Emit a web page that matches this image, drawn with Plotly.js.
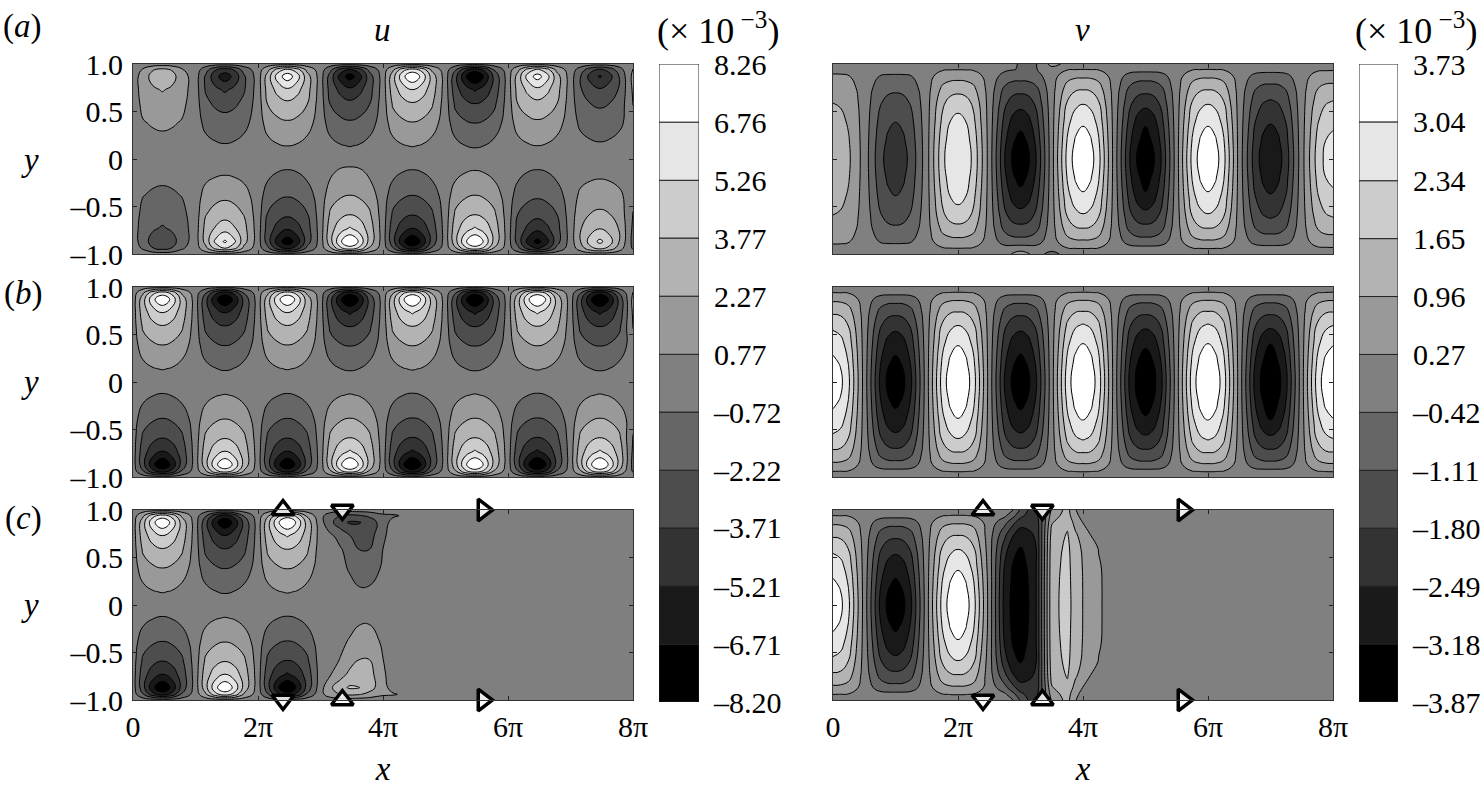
<!DOCTYPE html>
<html>
<head>
<meta charset="utf-8">
<script src="https://cdn.plot.ly/plotly-3.0.1.min.js"></script>
<style>html,body{margin:0;padding:0;background:#fff}</style>
</head>
<body>
<div id="chart" style="width:1484px;height:789px"></div>
<script>
const uX = [0,.16,.32,.47,.62,.78,1,1.16,1.32,1.47,1.62,1.78,2,2.16,2.32,2.47,2.62,2.78,3,3.16,3.32,3.47,3.62,3.78,4,4.16,4.32,4.47,4.62,4.78,5,5.16,5.32,5.47,5.62,5.78,6,6.16,6.32,6.47,6.62,6.78,7,7.16,7.32,7.47,7.62,7.78,8];
const uY = [-1,-.94,-.87,-.73,-.58,-.38,-.14,0,.14,.38,.58,.73,.87,.94,1];
const vX = [0,.12,.25,.5,.75,.88,1,1.12,1.25,1.5,1.75,1.88,2,2.12,2.25,2.5,2.75,2.88,3,3.12,3.25,3.5,3.75,3.88,4,4.12,4.25,4.5,4.75,4.88,5,5.12,5.25,5.5,5.75,5.88,6,6.12,6.25,6.5,6.75,6.88,7,7.12,7.25,7.5,7.75,7.88,8];
const vY = [-1,-.94,-.87,-.75,-.6,-.4,-.2,0,.2,.4,.6,.75,.87,.94,1];
const flat = [0,0,0,0,0,0,0,0,0,0,0,0,0,0,0,0,0,0,0,0,0,0,0,0,0,0,0,0,0,0,0,0,0,0,0,0,0,0,0,0,0,0,0,0,0,0,0,0,0];

const uA = [
  flat,
  [0,-.9,-2.16,-2.7,-2.16,-.9,0,1.75,4.2,5.25,4.2,1.75,0,-1.9,-4.56,-5.7,-4.56,-1.9,0,2.05,4.92,6.15,4.92,2.05,0,-2,-4.8,-6,-4.8,-2,0,2.05,4.92,6.15,4.92,2.05,0,-1.8,-4.32,-5.4,-4.32,-1.8,0,1.4,3.36,4.2,3.36,1.4,-.9],
  [0,-1.44,-2.88,-3.6,-2.88,-1.44,0,2.8,5.6,7,5.6,2.8,0,-3.04,-6.08,-7.6,-6.08,-3.04,0,3.28,6.56,8.2,6.56,3.28,0,-3.2,-6.4,-8,-6.4,-3.2,0,3.28,6.56,8.2,6.56,3.28,0,-2.88,-5.76,-7.2,-5.76,-2.88,0,2.24,4.48,5.6,4.48,2.24,-1.2],
  [0,-1.4,-2.02,-2.38,-2.02,-1.4,0,2.73,3.92,4.62,3.92,2.73,0,-2.96,-4.26,-5.02,-4.26,-2.96,0,3.2,4.59,5.41,4.59,3.2,0,-3.12,-4.48,-5.28,-4.48,-3.12,0,3.2,4.59,5.41,4.59,3.2,0,-2.81,-4.03,-4.75,-4.03,-2.81,0,2.18,3.14,3.7,3.14,2.18,-1],
  [0,-1.12,-1.48,-1.62,-1.48,-1.12,0,2.17,2.87,3.15,2.87,2.17,0,-2.36,-3.12,-3.42,-3.12,-2.36,0,2.54,3.36,3.69,3.36,2.54,0,-2.48,-3.28,-3.6,-3.28,-2.48,0,2.54,3.36,3.69,3.36,2.54,0,-2.23,-2.95,-3.24,-2.95,-2.23,0,1.74,2.3,2.52,2.3,1.74,-.85],
  [0,-.68,-.9,-.99,-.9,-.68,0,1.32,1.75,1.93,1.75,1.32,0,-1.43,-1.9,-2.09,-1.9,-1.43,0,1.54,2.05,2.26,2.05,1.54,0,-1.5,-2,-2.2,-2,-1.5,0,1.54,2.05,2.26,2.05,1.54,0,-1.35,-1.8,-1.98,-1.8,-1.35,0,1.05,1.4,1.54,1.4,1.05,0],
  [0,-.13,-.3,-.35,-.3,-.13,0,.22,.5,.6,.5,.22,0,-.32,-.75,-.9,-.75,-.32,0,.5,1.1,1.3,1.1,.5,0,-.32,-.75,-.9,-.75,-.32,0,.32,.75,.9,.75,.32,0,-.32,-.75,-.9,-.75,-.32,0,.16,.38,.45,.38,.16,0],
  flat,
  [0,.14,.32,.38,.32,.14,0,-.23,-.53,-.63,-.53,-.23,0,.29,.67,.8,.67,.29,0,-.28,-.65,-.78,-.65,-.28,0,.3,.7,.84,.7,.3,0,-.31,-.72,-.86,-.72,-.31,0,.28,.65,.78,.65,.28,0,-.2,-.48,-.57,-.48,-.2,0],
  [0,.68,.9,.99,.9,.68,0,-1.13,-1.5,-1.65,-1.5,-1.13,0,1.43,1.9,2.09,1.9,1.43,0,-1.39,-1.85,-2.04,-1.85,-1.39,0,1.5,2,2.2,2,1.5,0,-1.54,-2.05,-2.26,-2.05,-1.54,0,1.39,1.85,2.04,1.85,1.39,0,-1.02,-1.35,-1.49,-1.35,-1.02,0],
  [0,1.12,1.48,1.62,1.48,1.12,0,-1.86,-2.46,-2.7,-2.46,-1.86,0,2.36,3.12,3.42,3.12,2.36,0,-2.29,-3.03,-3.33,-3.03,-2.29,0,2.48,3.28,3.6,3.28,2.48,0,-2.54,-3.36,-3.69,-3.36,-2.54,0,2.29,3.03,3.33,3.03,2.29,0,-1.67,-2.21,-2.43,-2.21,-1.67,.85],
  [0,1.4,2.02,2.38,2.02,1.4,0,-2.34,-3.36,-3.96,-3.36,-2.34,0,2.96,4.26,5.02,4.26,2.96,0,-2.89,-4.14,-4.88,-4.14,-2.89,0,3.12,4.48,5.28,4.48,3.12,0,-3.2,-4.59,-5.41,-4.59,-3.2,0,2.89,4.14,4.88,4.14,2.89,0,-2.11,-3.02,-3.56,-3.02,-2.11,1],
  [0,1.44,2.88,3.6,2.88,1.44,0,-2.4,-4.8,-6,-4.8,-2.4,0,3.04,6.08,7.6,6.08,3.04,0,-2.96,-5.92,-7.4,-5.92,-2.96,0,3.2,6.4,8,6.4,3.2,0,-3.28,-6.56,-8.2,-6.56,-3.28,0,2.96,5.92,7.4,5.92,2.96,0,-2.16,-4.32,-5.4,-4.32,-2.16,1.2],
  [0,.9,2.16,2.7,2.16,.9,0,-1.5,-3.6,-4.5,-3.6,-1.5,0,1.9,4.56,5.7,4.56,1.9,0,-1.85,-4.44,-5.55,-4.44,-1.85,0,2,4.8,6,4.8,2,0,-2.05,-4.92,-6.15,-4.92,-2.05,0,1.85,4.44,5.55,4.44,1.85,0,-1.35,-3.24,-4.05,-3.24,-1.35,.9],
  flat
];

const uB = [
  flat,
  [0,-2,-4.8,-6,-4.8,-2,0,2,4.8,6,4.8,2,0,-2,-4.8,-6,-4.8,-2,0,2.05,4.92,6.15,4.92,2.05,0,-2.05,-4.92,-6.15,-4.92,-2.05,0,2.05,4.92,6.15,4.92,2.05,0,-2.05,-4.92,-6.15,-4.92,-2.05,0,2.05,4.92,6.15,4.92,2.05,-.9],
  [0,-3.2,-6.4,-8,-6.4,-3.2,0,3.2,6.4,8,6.4,3.2,0,-3.2,-6.4,-8,-6.4,-3.2,0,3.28,6.56,8.2,6.56,3.28,0,-3.28,-6.56,-8.2,-6.56,-3.28,0,3.28,6.56,8.2,6.56,3.28,0,-3.28,-6.56,-8.2,-6.56,-3.28,0,3.28,6.56,8.2,6.56,3.28,-1.2],
  [0,-3.12,-4.48,-5.28,-4.48,-3.12,0,3.12,4.48,5.28,4.48,3.12,0,-3.12,-4.48,-5.28,-4.48,-3.12,0,3.2,4.59,5.41,4.59,3.2,0,-3.2,-4.59,-5.41,-4.59,-3.2,0,3.2,4.59,5.41,4.59,3.2,0,-3.2,-4.59,-5.41,-4.59,-3.2,0,3.2,4.59,5.41,4.59,3.2,-1],
  [0,-2.48,-3.28,-3.6,-3.28,-2.48,0,2.48,3.28,3.6,3.28,2.48,0,-2.48,-3.28,-3.6,-3.28,-2.48,0,2.54,3.36,3.69,3.36,2.54,0,-2.54,-3.36,-3.69,-3.36,-2.54,0,2.54,3.36,3.69,3.36,2.54,0,-2.54,-3.36,-3.69,-3.36,-2.54,0,2.54,3.36,3.69,3.36,2.54,-.85],
  [0,-1.5,-2,-2.2,-2,-1.5,0,1.5,2,2.2,2,1.5,0,-1.5,-2,-2.2,-2,-1.5,0,1.54,2.05,2.26,2.05,1.54,0,-1.54,-2.05,-2.26,-2.05,-1.54,0,1.54,2.05,2.26,2.05,1.54,0,-1.54,-2.05,-2.26,-2.05,-1.54,0,1.54,2.05,2.26,2.05,1.54,0],
  [0,-.3,-.7,-.84,-.7,-.3,0,.3,.7,.84,.7,.3,0,-.3,-.7,-.84,-.7,-.3,0,.31,.72,.86,.72,.31,0,-.31,-.72,-.86,-.72,-.31,0,.31,.72,.86,.72,.31,0,-.31,-.72,-.86,-.72,-.31,0,.31,.72,.86,.72,.31,0],
  flat,
  [0,.3,.7,.84,.7,.3,0,-.3,-.7,-.84,-.7,-.3,0,.3,.7,.84,.7,.3,0,-.31,-.72,-.86,-.72,-.31,0,.31,.72,.86,.72,.31,0,-.31,-.72,-.86,-.72,-.31,0,.31,.72,.86,.72,.31,0,-.31,-.72,-.86,-.72,-.31,0],
  [0,1.5,2,2.2,2,1.5,0,-1.5,-2,-2.2,-2,-1.5,0,1.5,2,2.2,2,1.5,0,-1.54,-2.05,-2.26,-2.05,-1.54,0,1.54,2.05,2.26,2.05,1.54,0,-1.54,-2.05,-2.26,-2.05,-1.54,0,1.54,2.05,2.26,2.05,1.54,0,-1.54,-2.05,-2.26,-2.05,-1.54,0],
  [0,2.48,3.28,3.6,3.28,2.48,0,-2.48,-3.28,-3.6,-3.28,-2.48,0,2.48,3.28,3.6,3.28,2.48,0,-2.54,-3.36,-3.69,-3.36,-2.54,0,2.54,3.36,3.69,3.36,2.54,0,-2.54,-3.36,-3.69,-3.36,-2.54,0,2.54,3.36,3.69,3.36,2.54,0,-2.54,-3.36,-3.69,-3.36,-2.54,.85],
  [0,3.12,4.48,5.28,4.48,3.12,0,-3.12,-4.48,-5.28,-4.48,-3.12,0,3.12,4.48,5.28,4.48,3.12,0,-3.2,-4.59,-5.41,-4.59,-3.2,0,3.2,4.59,5.41,4.59,3.2,0,-3.2,-4.59,-5.41,-4.59,-3.2,0,3.2,4.59,5.41,4.59,3.2,0,-3.2,-4.59,-5.41,-4.59,-3.2,1],
  [0,3.2,6.4,8,6.4,3.2,0,-3.2,-6.4,-8,-6.4,-3.2,0,3.2,6.4,8,6.4,3.2,0,-3.28,-6.56,-8.2,-6.56,-3.28,0,3.28,6.56,8.2,6.56,3.28,0,-3.28,-6.56,-8.2,-6.56,-3.28,0,3.28,6.56,8.2,6.56,3.28,0,-3.28,-6.56,-8.2,-6.56,-3.28,1.2],
  [0,2,4.8,6,4.8,2,0,-2,-4.8,-6,-4.8,-2,0,2,4.8,6,4.8,2,0,-2.05,-4.92,-6.15,-4.92,-2.05,0,2.05,4.92,6.15,4.92,2.05,0,-2.05,-4.92,-6.15,-4.92,-2.05,0,2.05,4.92,6.15,4.92,2.05,0,-2.05,-4.92,-6.15,-4.92,-2.05,.9],
  flat
];

const uC = [
  flat,
  [0,-2,-4.8,-6,-4.8,-2,0,2,4.8,6,4.8,2,0,-2.05,-4.92,-6.15,-4.92,-2.05,.3,1.6,2.3,2.6,2.4,1.8,1,.9,.6,.4,.1,0,0,0,0,0,0,0,0,0,0,0,0,0,0,0,0,0,0,0,0],
  [0,-3.2,-6.4,-8,-6.4,-3.2,0,3.2,6.4,8,6.4,3.2,0,-3.28,-6.56,-8.2,-6.56,-3.28,.2,2,3.3,3.95,3.8,3,1.2,.3,.2,.15,0,0,0,0,0,0,0,0,0,0,0,0,0,0,0,0,0,0,0,0,0],
  [0,-3.12,-4.48,-5.28,-4.48,-3.12,0,3.12,4.48,5.28,4.48,3.12,0,-3.2,-4.59,-5.41,-4.59,-3.2,0,.7,1.6,2.7,3.1,2.9,1,.15,0,0,0,0,0,0,0,0,0,0,0,0,0,0,0,0,0,0,0,0,0,0,0],
  [0,-2.48,-3.28,-3.6,-3.28,-2.48,0,2.48,3.28,3.6,3.28,2.48,0,-2.54,-3.36,-3.69,-3.36,-2.54,0,.3,.85,1.6,2.3,2.3,.8,.1,0,0,0,0,0,0,0,0,0,0,0,0,0,0,0,0,0,0,0,0,0,0,0],
  [0,-1.5,-2,-2.2,-2,-1.5,0,1.5,2,2.2,2,1.5,0,-1.54,-2.05,-2.26,-2.05,-1.54,0,.1,.45,.9,1.5,1.5,.5,.05,0,0,0,0,0,0,0,0,0,0,0,0,0,0,0,0,0,0,0,0,0,0,0],
  [0,-.3,-.7,-.84,-.7,-.3,0,.3,.7,.84,.7,.3,0,-.31,-.72,-.86,-.72,-.31,0,0,.05,.2,.45,.5,.1,0,0,0,0,0,0,0,0,0,0,0,0,0,0,0,0,0,0,0,0,0,0,0,0],
  flat,
  [0,.3,.7,.84,.7,.3,0,-.3,-.7,-.84,-.7,-.3,0,.31,.72,.86,.72,.31,0,0,-.1,-.3,-.5,-.45,-.1,0,0,0,0,0,0,0,0,0,0,0,0,0,0,0,0,0,0,0,0,0,0,0,0],
  [0,1.5,2,2.2,2,1.5,0,-1.5,-2,-2.2,-2,-1.5,0,1.54,2.05,2.26,2.05,1.54,0,-.1,-.4,-.85,-1.5,-1.5,-.5,0,0,0,0,0,0,0,0,0,0,0,0,0,0,0,0,0,0,0,0,0,0,0,0],
  [0,2.48,3.28,3.6,3.28,2.48,0,-2.48,-3.28,-3.6,-3.28,-2.48,0,2.54,3.36,3.69,3.36,2.54,0,-.2,-.6,-1.2,-2.2,-2.2,-.7,-.05,0,0,0,0,0,0,0,0,0,0,0,0,0,0,0,0,0,0,0,0,0,0,0],
  [0,3.12,4.48,5.28,4.48,3.12,0,-3.05,-4.4,-5.2,-4.4,-3.05,0,3.2,4.59,5.41,4.59,3.2,0,-.5,-1.2,-2.2,-3,-2.9,-1,-.1,0,0,0,0,0,0,0,0,0,0,0,0,0,0,0,0,0,0,0,0,0,0,0],
  [0,3.2,6.4,8,6.4,3.2,0,-3.2,-6.3,-7.9,-6.3,-3.2,0,3.28,6.56,8.2,6.56,3.28,-.2,-1.8,-3.2,-3.9,-3.8,-3.3,-1.3,-.3,-.15,-.1,0,0,0,0,0,0,0,0,0,0,0,0,0,0,0,0,0,0,0,0,0],
  [0,2,4.8,6,4.8,2,0,-2,-4.7,-5.9,-4.7,-2,0,2.05,4.92,6.15,4.92,2.05,-.3,-1.5,-2.3,-2.6,-2.4,-1.9,-1,-.9,-.6,-.4,-.1,0,0,0,0,0,0,0,0,0,0,0,0,0,0,0,0,0,0,0,0,0,0],
  flat
];

const vA = [
  [0,0,0,0,0,0,0,0,0,0,0,0,0,0,0,0,0,.35,.6,.35,0,-.8,0,0,0,0,0,0,0,0,0,0,0,0,0,0,0,0,0,0,0,0,0,0,0,0,0,0,0],
  [.12,.12,.1,0,-.12,-.14,-.14,-.14,-.12,0,.22,.26,.27,.26,.22,0,-.17,-.1,-.05,-.1,-.17,0,.25,.28,.29,.28,.25,0,-.17,-.2,-.2,-.2,-.17,0,.25,.28,.29,.28,.25,0,-.16,-.2,-.2,-.2,-.16,0,.19,.21,.22],
  [.36,.35,.3,0,-.44,-.52,-.53,-.52,-.44,0,.62,.73,.75,.73,.62,0,-.7,-.82,-.84,-.82,-.7,0,.72,.85,.86,.85,.72,0,-.7,-.82,-.84,-.82,-.7,0,.72,.85,.86,.85,.72,0,-.6,-.71,-.72,-.71,-.6,0,.54,.63,.65],
  [.65,.63,.52,0,-.76,-.92,-.95,-.92,-.76,0,1.08,1.3,1.35,1.3,1.08,0,-1.21,-1.47,-1.5,-1.47,-1.21,0,1.24,1.51,1.55,1.51,1.24,0,-1.21,-1.47,-1.5,-1.47,-1.21,0,1.24,1.51,1.55,1.51,1.24,0,-1.04,-1.26,-1.29,-1.26,-1.04,0,.93,1.13,1.16],
  [.95,.89,.71,0,-1.03,-1.3,-1.39,-1.3,-1.03,0,1.5,1.9,2.05,1.9,1.5,0,-1.65,-2.07,-2.2,-2.07,-1.65,0,1.69,2.12,2.27,2.12,1.69,0,-1.65,-2.07,-2.2,-2.07,-1.65,0,1.69,2.12,2.27,2.12,1.69,0,-1.41,-1.77,-1.89,-1.77,-1.41,0,1.27,1.59,1.7],
  [1.22,1.13,.88,0,-1.29,-1.66,-1.78,-1.66,-1.29,0,1.8,2.35,2.55,2.35,1.8,0,-2.05,-2.7,-2.95,-2.7,-2.05,0,2.11,2.72,2.92,2.72,2.11,0,-2.05,-2.75,-3.1,-2.75,-2.05,0,2.11,2.72,2.92,2.72,2.11,0,-1.76,-2.27,-2.43,-2.27,-1.76,0,1.58,2.04,2.19],
  [1.4,1.3,1.01,0,-1.47,-1.9,-2.05,-1.9,-1.47,0,2.05,2.65,2.85,2.65,2.05,0,-2.35,-3.1,-3.38,-3.1,-2.35,0,2.41,3.11,3.35,3.11,2.41,0,-2.35,-3.1,-3.38,-3.1,-2.35,0,2.41,3.11,3.35,3.11,2.41,0,-2.01,-2.6,-2.79,-2.6,-2.01,0,1.81,2.34,2.51],
  [1.5,1.4,1.08,0,-1.58,-2.05,-2.2,-2.05,-1.58,0,2.16,2.8,3,2.8,2.16,0,-2.52,-3.32,-3.6,-3.32,-2.52,0,2.59,3.35,3.6,3.35,2.59,0,-2.52,-3.32,-3.6,-3.32,-2.52,0,2.59,3.35,3.6,3.35,2.59,0,-2.16,-2.79,-3,-2.79,-2.16,0,1.94,2.51,2.7],
  [1.4,1.3,1.01,0,-1.47,-1.9,-2.05,-1.9,-1.47,0,2.05,2.65,2.85,2.65,2.05,0,-2.35,-3.1,-3.38,-3.1,-2.35,0,2.41,3.11,3.35,3.11,2.41,0,-2.35,-3.1,-3.38,-3.1,-2.35,0,2.41,3.11,3.35,3.11,2.41,0,-2.01,-2.6,-2.79,-2.6,-2.01,0,1.81,2.34,2.51],
  [1.22,1.13,.88,0,-1.29,-1.66,-1.78,-1.66,-1.29,0,1.8,2.35,2.55,2.35,1.8,0,-2.05,-2.7,-2.95,-2.7,-2.05,0,2.11,2.72,2.92,2.72,2.11,0,-2.05,-2.75,-3.1,-2.75,-2.05,0,2.11,2.72,2.92,2.72,2.11,0,-1.76,-2.27,-2.43,-2.27,-1.76,0,1.58,2.04,2.19],
  [.95,.89,.71,0,-1.03,-1.3,-1.39,-1.3,-1.03,0,1.5,1.9,2.05,1.9,1.5,0,-1.65,-2.07,-2.2,-2.07,-1.65,0,1.69,2.12,2.27,2.12,1.69,0,-1.65,-2.07,-2.2,-2.07,-1.65,0,1.69,2.12,2.27,2.12,1.69,0,-1.41,-1.77,-1.89,-1.77,-1.41,0,1.27,1.59,1.7],
  [.65,.63,.52,0,-.76,-.92,-.95,-.92,-.76,0,1.08,1.3,1.35,1.3,1.08,0,-1.21,-1.47,-1.5,-1.47,-1.21,0,1.24,1.51,1.55,1.51,1.24,0,-1.21,-1.47,-1.5,-1.47,-1.21,0,1.24,1.51,1.55,1.51,1.24,0,-1.04,-1.26,-1.29,-1.26,-1.04,0,.93,1.13,1.16],
  [.36,.35,.3,0,-.44,-.52,-.53,-.52,-.44,0,.62,.73,.75,.73,.62,0,-.7,-.82,-.84,-.82,-.7,0,.72,.85,.86,.85,.72,0,-.7,-.82,-.84,-.82,-.7,0,.72,.85,.86,.85,.72,0,-.6,-.71,-.72,-.71,-.6,0,.54,.63,.65],
  [.12,.12,.1,0,-.12,-.14,-.14,-.14,-.12,0,.22,.26,.27,.26,.22,0,-.3,-.4,-.45,-.45,-.45,0,.25,.28,.29,.28,.25,0,-.17,-.2,-.2,-.2,-.17,0,.25,.28,.29,.28,.25,0,-.16,-.2,-.2,-.2,-.16,0,.19,.21,.22],
  [0,0,0,0,0,0,0,0,0,0,0,0,0,0,0,0,-.1,-.3,-.5,-.5,-.45,.5,.1,0,0,0,0,0,0,0,0,0,0,0,0,0,0,0,0,0,0,0,0,0,0,0,0,0,0]
];

const vB = [
  flat,
  [.28,.27,.24,0,-.17,-.2,-.2,-.2,-.17,0,.26,.29,.3,.29,.26,0,-.17,-.2,-.2,-.2,-.17,0,.26,.29,.3,.29,.26,0,-.18,-.2,-.2,-.2,-.18,0,.26,.29,.3,.29,.26,0,-.18,-.2,-.2,-.2,-.18,0,.26,.29,.3],
  [.83,.81,.69,0,-.72,-.85,-.86,-.85,-.72,0,.74,.87,.89,.87,.74,0,-.72,-.85,-.86,-.85,-.72,0,.75,.88,.9,.88,.75,0,-.74,-.87,-.89,-.87,-.74,0,.75,.88,.9,.88,.75,0,-.74,-.87,-.89,-.87,-.74,0,.74,.87,.89],
  [1.48,1.45,1.19,0,-1.24,-1.51,-1.55,-1.51,-1.24,0,1.28,1.55,1.59,1.55,1.28,0,-1.24,-1.51,-1.55,-1.51,-1.24,0,1.3,1.58,1.62,1.58,1.3,0,-1.28,-1.55,-1.59,-1.55,-1.28,0,1.3,1.58,1.62,1.58,1.3,0,-1.28,-1.55,-1.59,-1.55,-1.28,0,1.28,1.55,1.59],
  [2.17,2.04,1.62,0,-1.69,-2.12,-2.27,-2.12,-1.69,0,1.74,2.18,2.33,2.18,1.74,0,-1.69,-2.12,-2.27,-2.12,-1.69,0,1.77,2.25,2.4,2.25,1.77,0,-1.74,-2.18,-2.33,-2.18,-1.74,0,1.77,2.25,2.4,2.25,1.77,0,-1.74,-2.18,-2.33,-2.18,-1.74,0,1.74,2.18,2.33],
  [2.79,2.6,2.02,0,-2.11,-2.72,-2.92,-2.72,-2.11,0,2.16,2.79,3,2.79,2.16,0,-2.11,-2.74,-2.95,-2.74,-2.11,0,2.2,2.84,3.05,2.84,2.2,0,-2.16,-2.85,-3.1,-2.85,-2.16,0,2.2,2.84,3.05,2.84,2.2,0,-2.16,-2.9,-3.18,-2.9,-2.16,0,2.16,2.79,3],
  [3.21,2.98,2.31,0,-2.41,-3.11,-3.35,-3.11,-2.41,0,2.48,3.2,3.44,3.2,2.48,0,-2.41,-3.12,-3.38,-3.12,-2.41,0,2.52,3.25,3.5,3.25,2.52,0,-2.48,-3.2,-3.44,-3.2,-2.48,0,2.52,3.25,3.5,3.25,2.52,0,-2.48,-3.2,-3.44,-3.2,-2.48,0,2.48,3.2,3.44],
  [3.45,3.21,2.48,0,-2.59,-3.35,-3.6,-3.35,-2.59,0,2.66,3.44,3.7,3.44,2.66,0,-2.59,-3.35,-3.6,-3.35,-2.59,0,2.7,3.47,3.73,3.47,2.7,0,-2.66,-3.44,-3.7,-3.44,-2.66,0,2.7,3.47,3.73,3.47,2.7,0,-2.66,-3.44,-3.7,-3.44,-2.66,0,2.66,3.44,3.7],
  [3.21,2.98,2.31,0,-2.41,-3.11,-3.35,-3.11,-2.41,0,2.48,3.2,3.44,3.2,2.48,0,-2.41,-3.12,-3.38,-3.12,-2.41,0,2.52,3.25,3.5,3.25,2.52,0,-2.48,-3.2,-3.44,-3.2,-2.48,0,2.52,3.25,3.5,3.25,2.52,0,-2.48,-3.2,-3.44,-3.2,-2.48,0,2.48,3.2,3.44],
  [2.79,2.6,2.02,0,-2.11,-2.72,-2.92,-2.72,-2.11,0,2.16,2.79,3,2.79,2.16,0,-2.11,-2.74,-2.95,-2.74,-2.11,0,2.2,2.84,3.05,2.84,2.2,0,-2.16,-2.85,-3.1,-2.85,-2.16,0,2.2,2.84,3.05,2.84,2.2,0,-2.16,-2.9,-3.18,-2.9,-2.16,0,2.16,2.79,3],
  [2.17,2.04,1.62,0,-1.69,-2.12,-2.27,-2.12,-1.69,0,1.74,2.18,2.33,2.18,1.74,0,-1.69,-2.12,-2.27,-2.12,-1.69,0,1.77,2.25,2.4,2.25,1.77,0,-1.74,-2.18,-2.33,-2.18,-1.74,0,1.77,2.25,2.4,2.25,1.77,0,-1.74,-2.18,-2.33,-2.18,-1.74,0,1.74,2.18,2.33],
  [1.48,1.45,1.19,0,-1.24,-1.51,-1.55,-1.51,-1.24,0,1.28,1.55,1.59,1.55,1.28,0,-1.24,-1.51,-1.55,-1.51,-1.24,0,1.3,1.58,1.62,1.58,1.3,0,-1.28,-1.55,-1.59,-1.55,-1.28,0,1.3,1.58,1.62,1.58,1.3,0,-1.28,-1.55,-1.59,-1.55,-1.28,0,1.28,1.55,1.59],
  [.83,.81,.69,0,-.72,-.85,-.86,-.85,-.72,0,.74,.87,.89,.87,.74,0,-.72,-.85,-.86,-.85,-.72,0,.75,.88,.9,.88,.75,0,-.74,-.87,-.89,-.87,-.74,0,.75,.88,.9,.88,.75,0,-.74,-.87,-.89,-.87,-.74,0,.74,.87,.89],
  [.28,.27,.24,0,-.17,-.2,-.2,-.2,-.17,0,.26,.29,.3,.29,.26,0,-.17,-.2,-.2,-.2,-.17,0,.26,.29,.3,.29,.26,0,-.18,-.2,-.2,-.2,-.18,0,.26,.29,.3,.29,.26,0,-.18,-.2,-.2,-.2,-.18,0,.26,.29,.3],
  flat
];

const vC = [
  [0,0,0,0,0,0,0,0,0,0,0,0,0,0,0,0,0,-.4,-1.2,-1.8,-2.1,.4,1.2,.3,0,0,0,0,0,0,0,0,0,0,0,0,0,0,0,0,0,0,0,0,0,0,0,0,0],
  [.28,.27,.24,0,-.17,-.2,-.2,-.2,-.17,0,.25,.29,.3,.29,.25,0,-.3,-.9,-1.6,-2,-2.1,.6,1.3,.4,.1,0,0,0,0,0,0,0,0,0,0,0,0,0,0,0,0,0,0,0,0,0,0,0,0],
  [.83,.81,.69,0,-.72,-.85,-.86,-.85,-.72,0,.73,.86,.87,.86,.73,0,-.9,-1.6,-2.2,-2.3,-2.3,.9,1.5,.7,.25,0,0,0,0,0,0,0,0,0,0,0,0,0,0,0,0,0,0,0,0,0,0,0,0],
  [1.48,1.45,1.19,0,-1.24,-1.51,-1.55,-1.51,-1.24,0,1.26,1.53,1.57,1.53,1.26,-.1,-1.6,-2.4,-2.8,-2.6,-2.4,1.2,1.7,1.05,.6,.25,.08,0,0,0,0,0,0,0,0,0,0,0,0,0,0,0,0,0,0,0,0,0,0],
  [2.17,2.04,1.62,0,-1.69,-2.12,-2.27,-2.12,-1.69,0,1.71,2.15,2.3,2.15,1.71,-.1,-2.2,-2.95,-3.2,-2.9,-2.5,1.35,1.8,1.25,.85,.5,.25,0,0,0,0,0,0,0,0,0,0,0,0,0,0,0,0,0,0,0,0,0,0],
  [2.79,2.6,2.02,0,-2.11,-2.72,-2.92,-2.72,-2.11,0,2.13,2.76,2.96,2.76,2.13,-.05,-2.6,-3.25,-3.6,-3.1,-2.5,1.42,1.85,1.3,.93,.58,.33,0,0,0,0,0,0,0,0,0,0,0,0,0,0,0,0,0,0,0,0,0,0],
  [3.21,2.98,2.31,0,-2.41,-3.11,-3.35,-3.11,-2.41,0,2.44,3.14,3.4,3.14,2.44,0,-2.75,-3.35,-3.8,-3.2,-2.5,1.45,1.88,1.33,.95,.62,.35,0,0,0,0,0,0,0,0,0,0,0,0,0,0,0,0,0,0,0,0,0,0],
  [3.45,3.21,2.48,0,-2.59,-3.35,-3.6,-3.35,-2.59,0,2.62,3.38,3.65,3.38,2.62,0,-2.8,-3.4,-3.87,-3.25,-2.5,1.45,1.9,1.35,.95,.62,.35,0,0,0,0,0,0,0,0,0,0,0,0,0,0,0,0,0,0,0,0,0,0],
  [3.21,2.98,2.31,0,-2.41,-3.11,-3.35,-3.11,-2.41,0,2.44,3.14,3.4,3.14,2.44,0,-2.75,-3.35,-3.8,-3.2,-2.5,1.45,1.88,1.33,.95,.62,.35,0,0,0,0,0,0,0,0,0,0,0,0,0,0,0,0,0,0,0,0,0,0],
  [2.79,2.6,2.02,0,-2.11,-2.72,-2.92,-2.72,-2.11,0,2.13,2.76,2.96,2.76,2.13,-.05,-2.6,-3.25,-3.6,-3.1,-2.5,1.42,1.85,1.3,.93,.58,.33,0,0,0,0,0,0,0,0,0,0,0,0,0,0,0,0,0,0,0,0,0,0],
  [2.17,2.04,1.62,0,-1.69,-2.12,-2.27,-2.12,-1.69,0,1.71,2.15,2.3,2.15,1.71,-.1,-2.2,-2.95,-3.2,-2.9,-2.5,1.35,1.8,1.25,.85,.5,.25,0,0,0,0,0,0,0,0,0,0,0,0,0,0,0,0,0,0,0,0,0,0],
  [1.48,1.45,1.19,0,-1.24,-1.51,-1.55,-1.51,-1.24,0,1.26,1.53,1.57,1.53,1.26,-.1,-1.6,-2.4,-2.8,-2.6,-2.4,1.2,1.7,1.05,.6,.25,.08,0,0,0,0,0,0,0,0,0,0,0,0,0,0,0,0,0,0,0,0,0,0],
  [.83,.81,.69,0,-.72,-.85,-.86,-.85,-.72,0,.73,.86,.87,.86,.73,0,-.9,-1.6,-2.2,-2.3,-2.3,.9,1.5,.7,.25,0,0,0,0,0,0,0,0,0,0,0,0,0,0,0,0,0,0,0,0,0,0,0,0],
  [.28,.27,.24,0,-.17,-.2,-.2,-.2,-.17,0,.25,.29,.3,.29,.25,0,-.3,-.9,-1.6,-2,-2.1,.6,1.3,.4,.1,0,0,0,0,0,0,0,0,0,0,0,0,0,0,0,0,0,0,0,0,0,0,0,0],
  [0,0,0,0,0,0,0,0,0,0,0,0,0,0,0,0,0,-.4,-1.2,-1.8,-2.1,.4,1.2,.3,0,0,0,0,0,0,0,0,0,0,0,0,0,0,0,0,0,0,0,0,0,0,0,0,0]
];

// colour key, bottom to top
const uLevels = [-8.20,-6.71,-5.21,-3.71,-2.22,-0.72,0.77,2.27,3.77,5.26,6.76,8.26];
const vLevels = [-3.87,-3.18,-2.49,-1.80,-1.11,-0.42,0.27,0.96,1.65,2.34,3.04,3.73];
const uLevelText = ['–8.20','–6.71','–5.21','–3.71','–2.22','–0.72','0.77','2.27','3.77','5.26','6.76','8.26'];
const vLevelText = ['–3.87','–3.18','–2.49','–1.80','–1.11','–0.42','0.27','0.96','1.65','2.34','3.04','3.73'];
const bandColors = ['#000000','#1a1a1a','#333333','#4d4d4d','#666666','#808080','#999999','#b3b3b3','#cccccc','#e6e6e6','#ffffff'];

// marker positions in panel (c)
const markX = [2.4,2.4,3.35,3.35,5.6,5.6];
const markY = [1,-1,1,-1,1,-1];
const markSymbols = ['triangle-up','triangle-down','triangle-down','triangle-up','triangle-right','triangle-right'];

const xTickVals = [0,2,4,6,8];
const xTickText = ['0','2π','4π','6π','8π'];
const yTickVals = [-1,-.5,0,.5,1];
const yTickText = ['–1.0','–0.5','0','0.5','1.0'];

const W = 1484, H = 789;
const FONT = 'Liberation Serif, Times New Roman, serif';
const SIZE = 30;
const BIG = 33;
const rows = [[64,254],[287,477],[510,700]];
const cols = [[133,633],[833,1333]];
const fields = [[uA,vA],[uB,vB],[uC,vC]];
const grids = [[uX,uY,uLevels],[vX,vY,vLevels]];

function xDom(p){ return [p[0]/W, p[1]/W]; }
function yDom(p){ return [1-p[1]/H, 1-p[0]/H]; }

let data = [];
let layout = {
  width: W, height: H,
  margin: {l:0,r:0,t:0,b:0},
  paper_bgcolor: '#fff',
  plot_bgcolor: '#fff',
  showlegend: false,
  barmode: 'overlay',
  font: {family: FONT, size: SIZE, color: '#000'},
  annotations: []
};

let n = 0;
for (let c = 0; c < 2; c++) {
  for (let r = 0; r < 3; r++) {
    n++;
    const sfx = n === 1 ? '' : n;
    const lev = grids[c][2];
    data.push({
      type: 'contour',
      x: grids[c][0], y: grids[c][1], z: fields[r][c],
      xaxis: 'x' + sfx, yaxis: 'y' + sfx,
      autocontour: false,
      contours: {coloring: 'fill', start: lev[1], end: lev[10], size: (lev[11]-lev[0])/11},
      colorscale: [[0,'#000'],[1,'#fff']],
      showscale: false,
      line: {color: '#000', width: 1, smoothing: 1.3}
    });
    layout['xaxis' + sfx] = {
      domain: xDom(cols[c]), anchor: 'y' + sfx, range: [0,8],
      tickmode: 'array', tickvals: xTickVals, ticktext: xTickText, showticklabels: r === 2,
      ticks: 'inside', ticklen: 4, tickcolor: '#222', mirror: 'ticks',
      showline: true, linecolor: '#333', linewidth: 1, showgrid: false, zeroline: false,
      tickfont: {family: FONT, size: SIZE},
      title: r === 2 ? {text: '<i>x</i>', font: {family: FONT, size: BIG}, standoff: 14} : undefined
    };
    layout['yaxis' + sfx] = {
      domain: yDom(rows[r]), anchor: 'x' + sfx, range: [-1,1],
      tickmode: 'array', tickvals: yTickVals, ticktext: yTickText, showticklabels: c === 0,
      ticks: 'inside', ticklen: 4, tickcolor: '#222', mirror: 'ticks', ticklabelstandoff: 3,
      showline: true, linecolor: '#333', linewidth: 1, showgrid: false, zeroline: false,
      tickfont: {family: FONT, size: SIZE}
    };
    if (r === 2) {
      data.push({
        type: 'scatter', mode: 'markers', x: markX, y: markY,
        xaxis: 'x' + sfx, yaxis: 'y' + sfx, cliponaxis: false,
        marker: {symbol: markSymbols, size: 19, color: 'rgba(255,255,255,0.85)', line: {color: '#000', width: 3.5}}
      });
    }
  }
}

// colour keys as stacked bars on their own axes
const keyCols = [[659,699],[1359,1398]];
const keyText = [uLevelText, vLevelText];
for (let c = 0; c < 2; c++) {
  n++;
  const lev = grids[c][2];
  data.push({
    type: 'bar', x: bandColors.map(() => 0), width: 1,
    base: lev.slice(0,-1), y: lev.slice(1).map((v,i) => v - lev[i]),
    xaxis: 'x' + n, yaxis: 'y' + n,
    marker: {color: bandColors, line: {color: '#222', width: 1}},
    hoverinfo: 'skip'
  });
  layout['xaxis' + n] = {
    domain: xDom(keyCols[c]), anchor: 'y' + n, range: [-.5,.5],
    showticklabels: false, ticks: '', showgrid: false, zeroline: false, showline: false
  };
  layout['yaxis' + n] = {
    domain: yDom([64,702]), anchor: 'x' + n, side: 'right', range: [lev[0], lev[11]],
    tickmode: 'array', tickvals: lev, ticktext: keyText[c], ticks: '', ticklabelstandoff: 14,
    showgrid: false, zeroline: false, showline: false, tickfont: {family: FONT, size: SIZE}
  };
}

function label(text, px, py, size) {
  layout.annotations.push({
    text: text, xref: 'paper', yref: 'paper', x: px/W, y: 1-py/H,
    xanchor: 'center', yanchor: 'middle', showarrow: false,
    font: {family: FONT, size: size || BIG, color: '#000'}
  });
}
label('(<i>a</i>)', 22, 27);
label('(<i>b</i>)', 23, 293);
label('(<i>c</i>)', 23, 518);
label('<i>u</i>', 382, 30);
label('<i>v</i>', 1082, 30);
label('<i>y</i>', 30, 160);
label('<i>y</i>', 30, 382);
label('<i>y</i>', 30, 605);
label('(×&nbsp;10<sup>&nbsp;−3</sup>)', 718, 28, 36);
label('(×&nbsp;10<sup>&nbsp;−3</sup>)', 1416, 28, 36);

Plotly.newPlot('chart', data, layout, {displayModeBar: false});
</script>
</body>
</html>
